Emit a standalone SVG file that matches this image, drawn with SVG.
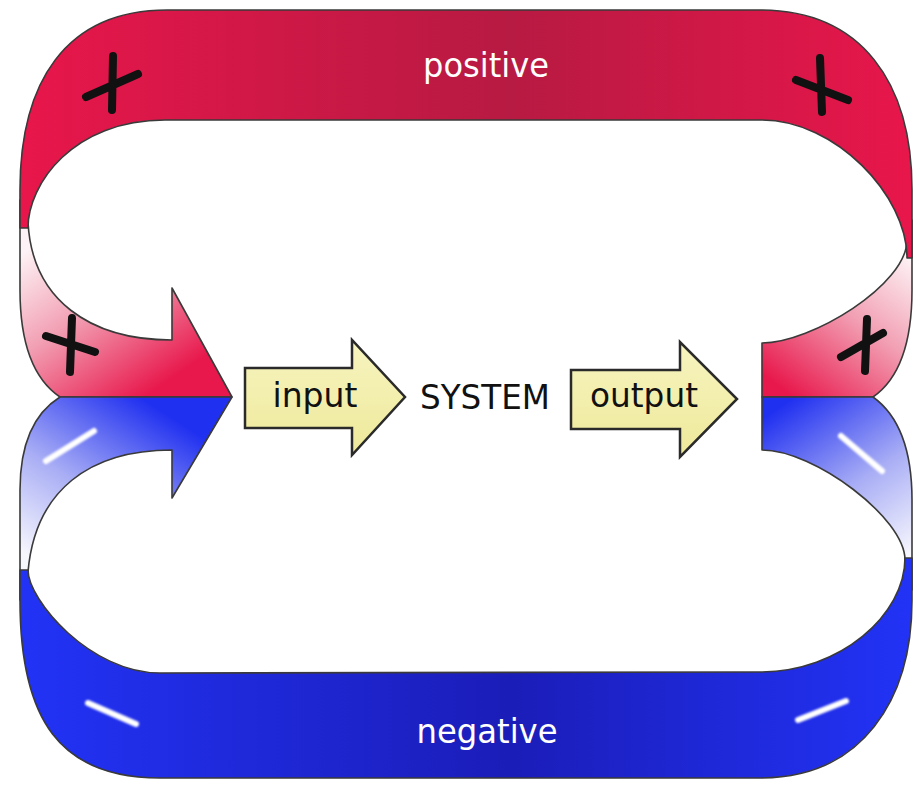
<svg xmlns="http://www.w3.org/2000/svg" width="920" height="785" viewBox="0 0 920 785">
  <defs>
    <linearGradient id="gTop" x1="20" y1="0" x2="912" y2="0" gradientUnits="userSpaceOnUse">
      <stop offset="0" stop-color="#e8164b"/>
      <stop offset="0.55" stop-color="#b71a42"/>
      <stop offset="1" stop-color="#e8164b"/>
    </linearGradient>
    <linearGradient id="gBot" x1="20" y1="0" x2="912" y2="0" gradientUnits="userSpaceOnUse">
      <stop offset="0" stop-color="#2233f6"/>
      <stop offset="0.55" stop-color="#1b1db8"/>
      <stop offset="1" stop-color="#2233f6"/>
    </linearGradient>
    <linearGradient id="gLR" x1="35" y1="245" x2="140" y2="400" gradientUnits="userSpaceOnUse">
      <stop offset="0" stop-color="#fdf2f5"/>
      <stop offset="0.45" stop-color="#f29fb3"/>
      <stop offset="1" stop-color="#e8184c"/>
    </linearGradient>
    <linearGradient id="gLB" x1="35" y1="560" x2="140" y2="397" gradientUnits="userSpaceOnUse">
      <stop offset="0" stop-color="#f6f6fd"/>
      <stop offset="0.45" stop-color="#a9aef5"/>
      <stop offset="1" stop-color="#2030f0"/>
    </linearGradient>
    <linearGradient id="gRR" x1="900" y1="250" x2="790" y2="395" gradientUnits="userSpaceOnUse">
      <stop offset="0" stop-color="#fdf2f5"/>
      <stop offset="0.45" stop-color="#f29fb3"/>
      <stop offset="1" stop-color="#e8184c"/>
    </linearGradient>
    <linearGradient id="gRB" x1="900" y1="560" x2="790" y2="400" gradientUnits="userSpaceOnUse">
      <stop offset="0" stop-color="#f6f6fd"/>
      <stop offset="0.45" stop-color="#a9aef5"/>
      <stop offset="1" stop-color="#2030f0"/>
    </linearGradient>
    <linearGradient id="gYel" x1="0" y1="0" x2="0" y2="1">
      <stop offset="0" stop-color="#f7f4c0"/>
      <stop offset="1" stop-color="#eee99a"/>
    </linearGradient>
    <filter id="soft" x="-30%" y="-30%" width="160%" height="160%">
      <feGaussianBlur stdDeviation="1.1"/>
    </filter>
  </defs>
  <style>
    .edge { stroke: #3a3a3a; stroke-width: 1.6; stroke-linejoin: round; }
    .yarrow { fill: url(#gYel); stroke: #2a2a2a; stroke-width: 2.5; stroke-linejoin: miter; }
    .plus { stroke: #111; stroke-width: 8; stroke-linecap: round; fill: none; }
    .dash { stroke: #ffffff; stroke-width: 6; stroke-linecap: round; fill: none; filter: url(#soft); }
    .lbl { font-family: "DejaVu Sans", Verdana, sans-serif; font-size: 34px; }
    .band { fill: #ffffff; }
    .dark { fill: #111111; }
  </style>
  <rect width="920" height="785" fill="#ffffff"/>

  <g id="connectors">
    <g id="ribbon-left-positive">
      <path class="edge" fill="url(#gLR)" d="M20,200 L20,290 Q20,370 60,397 L232,397 L172,288 L172,340 C90,340 32,300 28,222 L28,200 Z"/>
    </g>
    <g id="ribbon-left-negative">
      <path class="edge" fill="url(#gLB)" d="M20,600 L20,490 Q20,422 60,397 L232,397 L172,498 L172,450 C90,450 35,490 28,572 L28,600 Z"/>
    </g>
    <g id="ribbon-right-positive">
      <path class="edge" fill="url(#gRR)" d="M912,220 L912,290 Q912,370 873,397 L762,397 L762,343 C811,343 907,285 907,240 L907,220 Z"/>
    </g>
    <g id="ribbon-right-negative">
      <path class="edge" fill="url(#gRB)" d="M912,590 L912,500 Q912,425 873,397 L762,397 L762,450 C814,450 905,518 905,560 L905,590 Z"/>
    </g>
  </g>

  <g id="positive-loop">
    <path class="edge" fill="url(#gTop)" d="M20,228 L20,190 C20,83 65,10 167,10 L760,10 C862,10 912,83 912,190 L912,258 L907,258 C907,195 835,120 762,120 L165,120 C73,120 28,184 28,228 Z"/>
    <text class="lbl band" x="486" y="77" text-anchor="middle" textLength="126" lengthAdjust="spacingAndGlyphs">positive</text>
  </g>

  <g id="negative-loop">
    <path class="edge" fill="url(#gBot)" d="M20,570 L20,600 C20,720 60,778 160,778 L760,778 C862,778 912,700 912,600 L912,558 L905,558 C905,615 840,672 760,672 L160,673 C90,673 28,600 28,570 Z"/>
    <text class="lbl band" x="487" y="743" text-anchor="middle" textLength="141" lengthAdjust="spacingAndGlyphs">negative</text>
  </g>

  <g id="input">
    <path class="yarrow" d="M245,368 L352,368 L352,340 L405,397 L352,455 L352,428 L245,428 Z"/>
    <text class="lbl dark" x="315" y="407" text-anchor="middle" textLength="85" lengthAdjust="spacingAndGlyphs">input</text>
  </g>

  <g id="system">
    <text class="lbl dark" x="485" y="409" text-anchor="middle" textLength="130" lengthAdjust="spacingAndGlyphs">SYSTEM</text>
  </g>

  <g id="output">
    <path class="yarrow" d="M571,370 L680,370 L680,342 L737,399 L680,457 L680,429 L571,429 Z"/>
    <text class="lbl dark" x="644" y="407" text-anchor="middle" textLength="108" lengthAdjust="spacingAndGlyphs">output</text>
  </g>

  <g id="signs">
    <path class="plus" d="M113,56 L112,110 M86,97 L138,74"/>
    <path class="plus" d="M820,58 L822,112 M796,80 L848,100"/>
    <path class="plus" d="M72,318 L70,372 M46,336 L95,352"/>
    <path class="plus" d="M867,319 L865,371 M841,357 L883,333"/>
    <path class="dash" d="M46,461 L94,431"/>
    <path class="dash" d="M841,436 L882,471"/>
    <path class="dash" d="M88,703 L136,724"/>
    <path class="dash" d="M798,720 L846,701"/>
  </g>
</svg>
